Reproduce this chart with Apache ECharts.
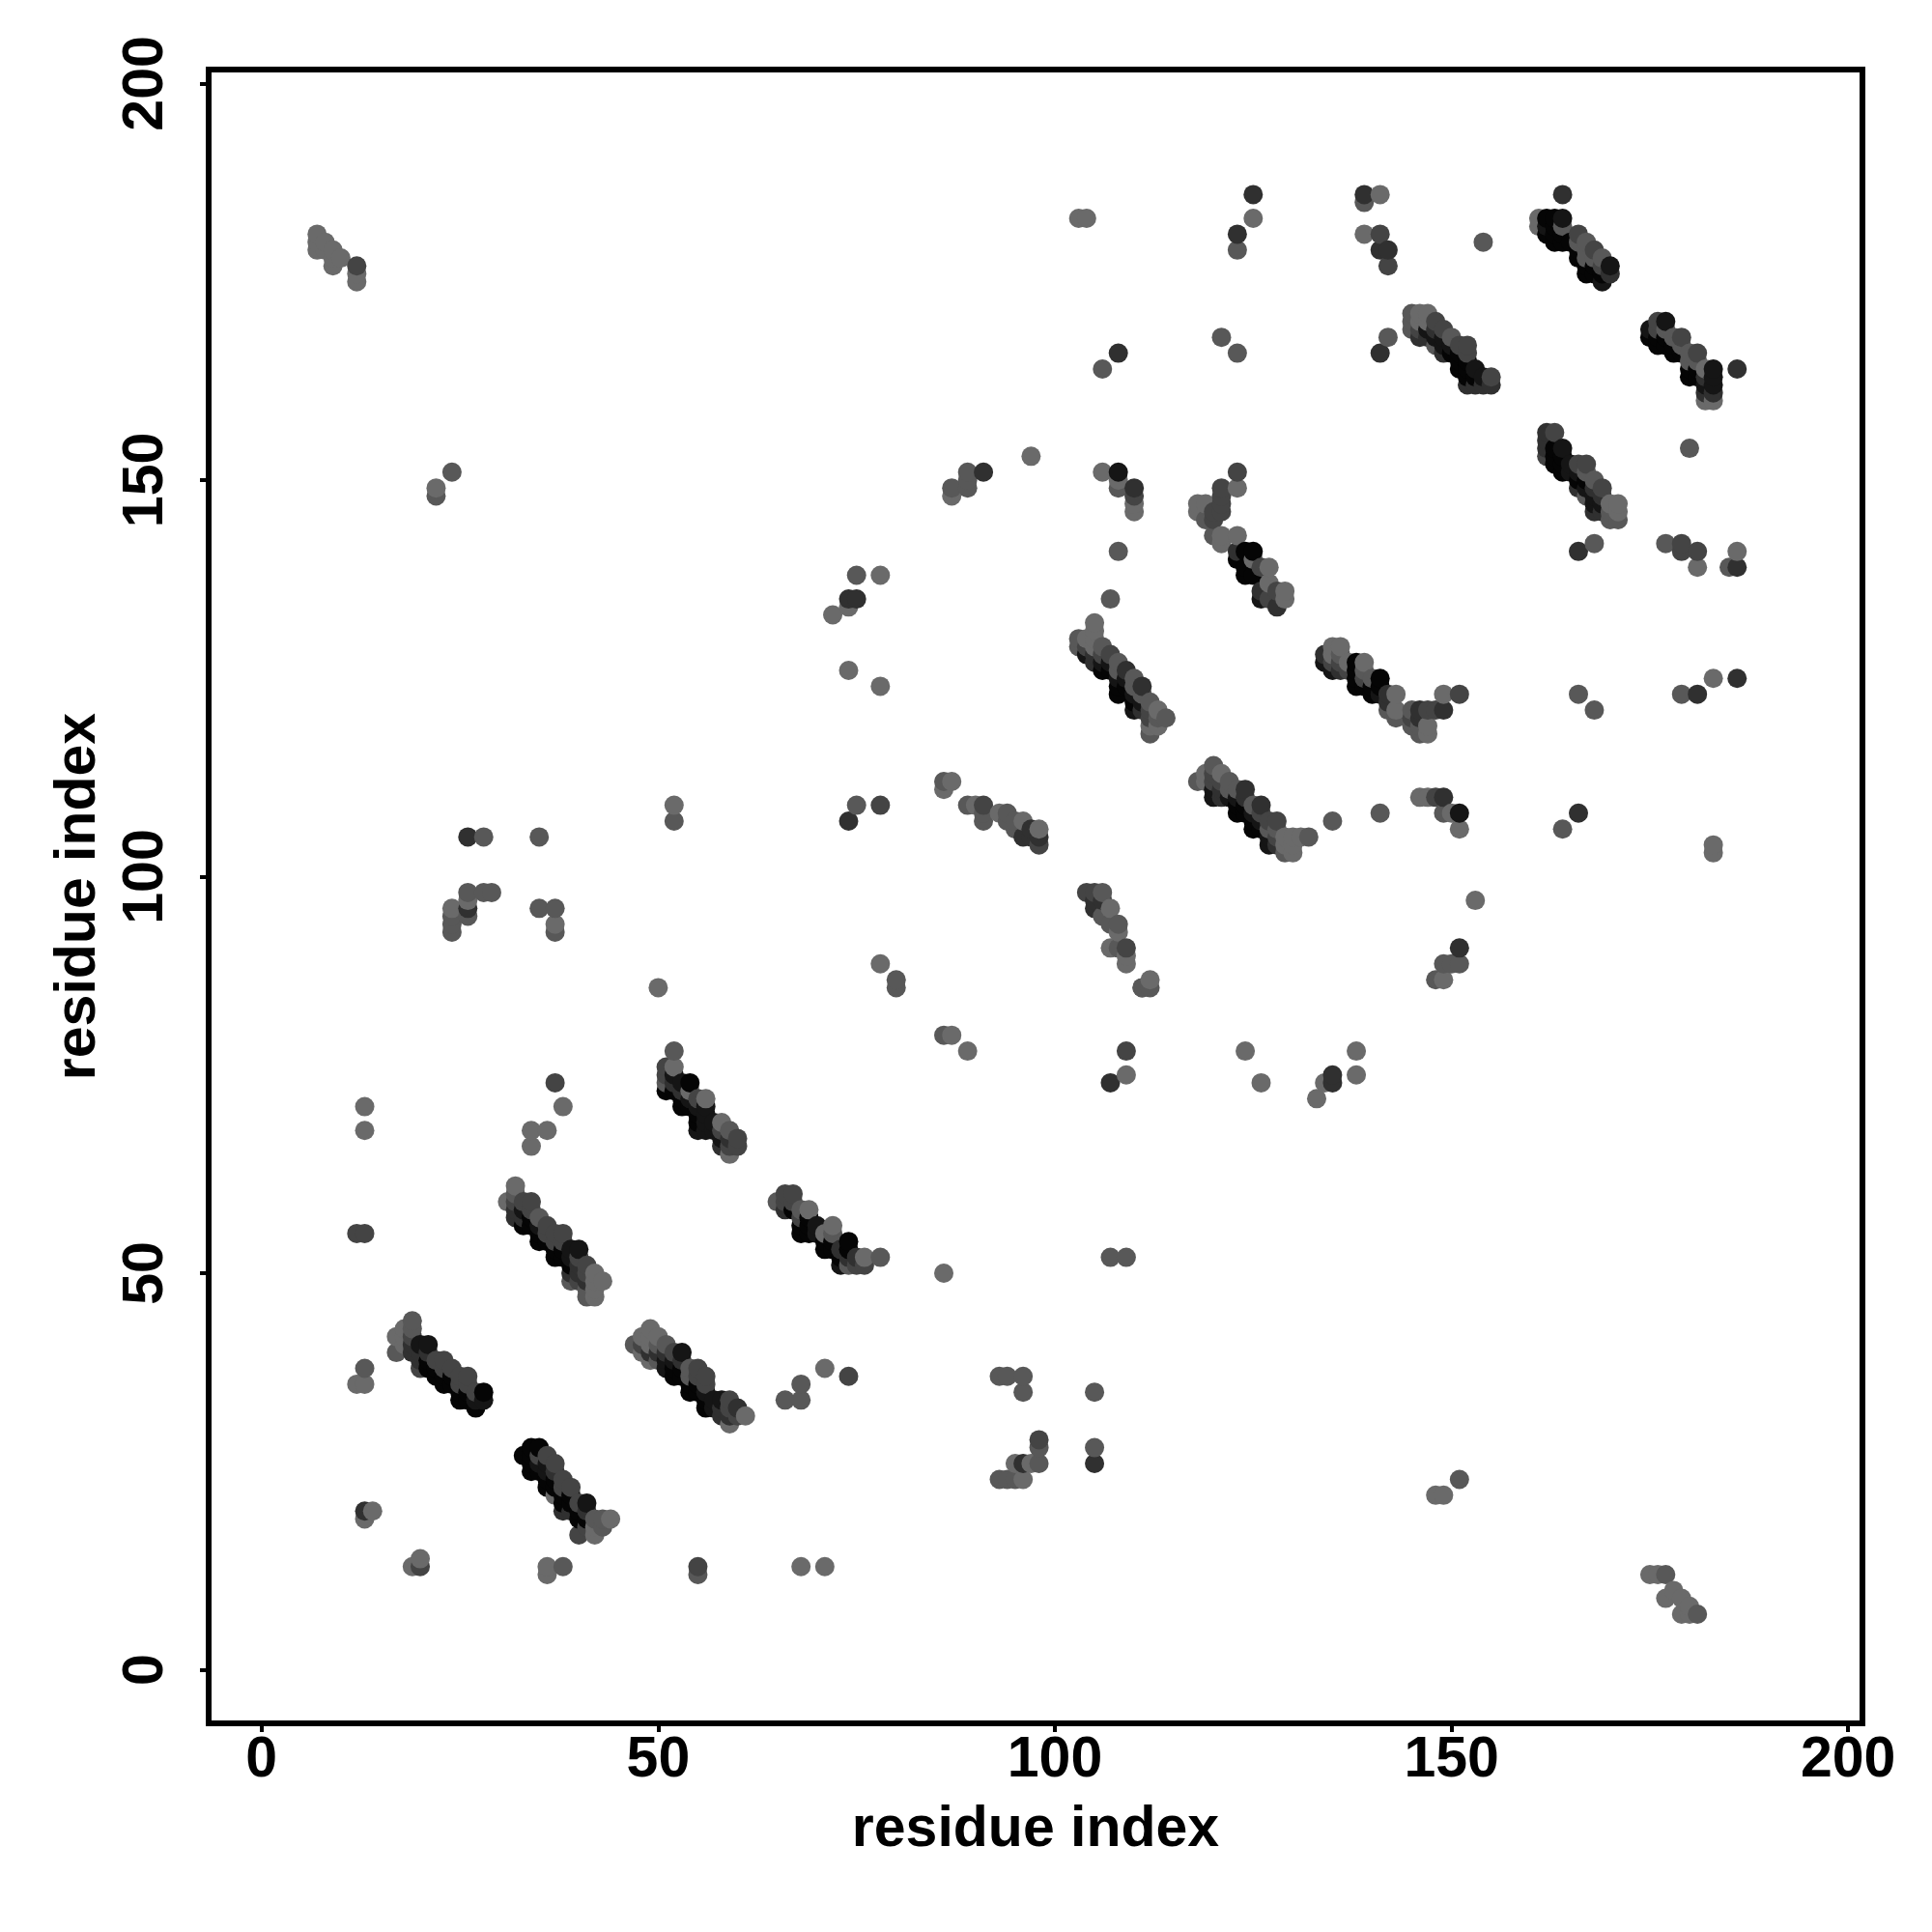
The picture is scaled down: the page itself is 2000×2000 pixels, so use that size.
<!DOCTYPE html>
<html><head><meta charset="utf-8">
<script src="https://cdn.jsdelivr.net/npm/echarts@6/dist/echarts.min.js"></script>
<style>html,body{margin:0;padding:0;background:#fff}#c{width:2000px;height:2000px}</style>
</head><body><div id="c"></div>
<script>
// each contact: [residue x, residue y, strength 1..6]
const tickValues=[0,50,100,150,200];
const axisTitle='residue index';
const bandA=[[17,40,2],[17,42,1],[18,41,1],[18,42,1],[18,43,1],[19,40,4],[19,41,4],[19,42,3],[19,43,2],[19,44,2],[20,38,3],[20,39,4],[20,40,4],[20,41,5],[21,38,6],[21,39,6],[21,40,4],[21,41,5],[22,37,6],[22,38,6],[22,39,3],[23,36,6],[23,37,6],[23,38,3],[23,39,3],[24,36,6],[24,37,6],[24,38,3],[25,34,6],[25,35,6],[25,36,3],[25,37,3],[26,34,6],[26,35,6],[26,36,3],[26,37,3],[27,33,6],[27,34,5],[27,35,3],[28,34,5],[28,35,6]];
const bandB=[[33,27,6],[34,25,6],[34,26,6],[34,27,6],[34,28,6],[35,25,6],[35,26,5],[35,27,3],[35,28,6],[36,23,6],[36,24,6],[36,25,5],[36,26,5],[36,27,3],[37,22,1],[37,23,6],[37,24,6],[37,25,4],[37,26,3],[38,20,4],[38,21,6],[38,22,6],[38,23,3],[38,24,3],[39,20,4],[39,21,6],[39,22,6],[39,23,3],[40,17,3],[40,19,6],[40,20,6],[40,21,3],[41,18,3],[41,19,6],[41,20,4],[41,21,5],[42,17,1],[42,18,1],[42,19,2],[43,18,2],[43,19,2],[44,19,1]];
const bandC=[[31,59,1],[32,57,4],[32,58,4],[32,59,3],[32,60,2],[32,61,1],[33,56,6],[33,57,4],[33,58,5],[33,59,3],[34,56,6],[34,57,6],[34,58,3],[34,59,3],[35,54,6],[35,55,6],[35,56,5],[35,57,2],[36,54,6],[36,55,3],[36,56,3],[37,52,6],[37,53,6],[37,54,3],[37,55,3],[38,52,6],[38,53,6],[38,54,3],[38,55,3],[39,49,2],[39,50,4],[39,51,6],[39,52,5],[39,53,5],[40,49,3],[40,50,4],[40,51,4],[40,52,3],[40,53,5],[41,47,2],[41,48,2],[41,49,4],[41,50,3],[41,51,3],[42,47,1],[42,48,1],[42,49,1],[42,50,1],[43,49,1]];
const bandD=[[47,41,2],[48,40,1],[48,41,3],[48,42,1],[49,39,1],[49,40,4],[49,41,1],[49,42,1],[49,43,1],[50,39,2],[50,40,4],[50,41,2],[50,42,1],[51,38,5],[51,39,5],[51,40,4],[51,41,2],[52,37,6],[52,38,6],[52,39,5],[52,40,3],[53,37,6],[53,38,6],[53,39,4],[53,40,5],[54,35,6],[54,36,6],[54,37,2],[54,38,2],[55,35,6],[55,36,6],[55,37,3],[55,38,3],[56,33,6],[56,34,6],[56,35,5],[56,36,3],[56,37,3],[57,33,5],[57,34,5],[58,32,4],[58,33,4],[58,34,5],[59,31,1],[59,32,4],[59,33,3],[59,34,3],[60,32,3],[60,33,4],[61,32,1]];
const bandE=[[65,59,2],[66,58,4],[66,59,3],[66,60,3],[67,58,6],[67,59,3],[67,60,3],[68,55,6],[68,56,6],[68,57,3],[68,58,2],[69,55,6],[69,56,6],[69,57,6],[69,58,1],[70,55,5],[70,56,5],[71,53,6],[71,54,6],[71,55,1],[72,53,6],[72,54,6],[72,55,2],[72,56,1],[73,51,5],[73,52,6],[73,53,4],[74,51,2],[74,52,4],[74,53,6],[74,54,6],[75,51,3],[75,52,4],[76,51,3],[76,52,1],[78,52,2]];
const bandF=[[51,73,6],[51,74,2],[51,75,3],[51,76,3],[52,73,6],[52,74,4],[52,75,5],[52,76,1],[52,78,2],[53,71,6],[53,72,6],[53,73,4],[53,74,5],[54,71,6],[54,72,5],[54,73,1],[54,74,6],[55,68,5],[55,69,6],[55,70,6],[55,71,5],[55,72,3],[56,68,5],[56,69,5],[56,70,5],[56,71,5],[56,72,1],[57,68,5],[57,69,5],[58,66,4],[58,67,5],[58,68,3],[58,69,1],[59,65,1],[59,66,3],[59,67,4],[59,68,2],[60,66,3],[60,67,3]];
const bandG=[[118,146,1],[118,147,1],[119,145,2],[119,147,1],[120,143,2],[120,145,3],[120,146,3],[121,142,1],[121,143,1],[121,146,3],[121,147,3],[121,148,3],[121,149,3],[123,140,6],[123,141,4],[123,143,1],[124,138,6],[124,139,6],[124,141,6],[125,138,6],[125,140,1],[125,141,6],[126,135,5],[126,136,4],[126,139,3],[127,135,3],[127,137,1],[127,139,1],[128,134,4],[128,136,3],[129,135,1],[129,136,1]];
const bandH=[[103,129,2],[103,130,2],[104,128,5],[104,129,3],[104,130,1],[105,127,4],[105,128,4],[105,129,1],[105,130,1],[105,131,1],[105,132,1],[106,126,6],[106,127,5],[106,128,3],[106,129,2],[107,126,6],[107,127,5],[107,128,3],[108,123,6],[108,124,6],[108,125,5],[108,126,2],[108,127,2],[109,124,6],[109,125,5],[109,126,4],[110,121,5],[110,122,6],[110,123,5],[110,124,2],[110,125,2],[111,121,4],[111,122,5],[111,123,2],[111,124,4],[112,118,2],[112,119,1],[112,120,3],[112,121,3],[112,122,2],[113,119,1],[113,120,2],[113,121,1],[114,120,2]];
const bandI=[[134,127,5],[134,128,4],[135,126,5],[135,127,3],[135,128,1],[135,129,1],[136,126,4],[136,127,3],[136,128,2],[136,129,1],[137,126,3],[137,127,1],[138,124,6],[138,125,6],[138,126,6],[138,127,6],[139,124,6],[139,125,3],[139,126,2],[139,127,1],[140,123,6],[140,124,6],[140,125,2],[141,123,5],[141,124,6],[141,125,6],[142,121,2],[142,122,4],[142,123,4],[143,120,2],[143,121,1],[143,123,1],[145,119,2],[145,120,3],[145,121,2],[146,118,2],[146,119,2],[146,120,4],[146,121,4],[147,118,1],[147,119,1],[147,121,3],[148,121,3],[149,121,4],[149,123,1],[151,123,3]];
const bandJ=[[118,112,2],[119,112,1],[119,113,1],[120,110,5],[120,111,5],[120,112,3],[120,113,3],[120,114,2],[121,110,4],[121,111,4],[121,112,3],[121,113,1],[122,110,5],[122,111,2],[122,112,2],[123,108,6],[123,109,6],[123,110,5],[123,111,2],[124,108,6],[124,109,6],[124,110,4],[124,111,4],[125,106,6],[125,107,6],[125,108,5],[125,109,2],[126,106,6],[126,107,5],[126,108,3],[126,109,4],[127,104,5],[127,105,5],[127,106,2],[127,107,3],[128,104,4],[128,105,3],[128,106,2],[128,107,3],[129,103,2],[129,104,1],[129,105,1],[130,103,1],[130,104,1],[130,105,1],[131,105,1],[132,105,2]];
const bandK=[[104,98,3],[105,96,4],[105,97,4],[105,98,3],[106,95,2],[106,97,4],[106,98,2],[107,91,1],[107,94,2],[107,96,1],[108,91,2],[108,93,1],[108,94,2],[109,89,1],[109,90,1],[109,91,3],[111,86,2],[112,86,2],[112,87,1]];
const bandL=[[161,182,1],[161,183,1],[162,181,6],[162,182,5],[162,183,6],[163,180,6],[163,181,6],[163,182,6],[163,183,6],[164,180,6],[164,181,6],[164,182,2],[164,183,5],[165,180,6],[166,178,6],[166,179,6],[166,180,2],[166,181,3],[167,176,6],[167,177,6],[167,178,2],[167,179,2],[167,180,2],[168,176,6],[168,177,6],[168,178,2],[168,179,3],[169,175,5],[169,176,6],[169,177,3],[169,178,2],[170,176,4],[170,177,5]];
const bandM=[[175,168,6],[175,169,5],[176,167,6],[176,168,6],[176,169,3],[176,170,3],[177,167,6],[177,168,6],[177,169,2],[177,170,5],[178,166,6],[178,167,6],[178,168,2],[179,166,6],[179,167,2],[179,168,3],[180,163,6],[180,164,6],[180,165,2],[180,166,2],[181,163,6],[181,164,6],[181,165,2],[181,166,3],[182,160,1],[182,161,4],[182,162,5],[182,163,4],[182,164,1],[183,160,1],[183,161,4],[183,162,5],[183,163,5],[183,164,5],[186,164,4]];
const bandN=[[145,169,2],[145,170,2],[145,171,2],[146,168,4],[146,169,3],[146,170,1],[146,171,1],[147,168,4],[147,169,5],[147,170,1],[147,171,1],[148,167,2],[148,168,5],[148,169,4],[148,170,3],[149,166,4],[149,167,5],[149,168,5],[149,169,3],[150,166,6],[150,167,5],[150,168,2],[151,164,6],[151,165,6],[151,166,6],[151,167,3],[152,162,4],[152,163,6],[152,164,6],[152,165,6],[152,166,3],[152,167,3],[153,162,4],[153,163,6],[153,164,5],[154,162,4],[154,163,5],[155,162,4],[155,163,3]];
const bandO=[[162,153,3],[162,154,4],[162,155,4],[162,156,4],[163,152,6],[163,153,6],[163,154,6],[163,156,3],[164,151,6],[164,152,6],[164,153,6],[164,154,5],[165,151,5],[165,152,5],[166,149,4],[166,150,6],[166,151,5],[166,152,3],[167,148,2],[167,149,5],[167,150,6],[167,151,2],[167,152,3],[168,146,4],[168,147,5],[168,148,5],[168,149,4],[168,150,2],[169,146,4],[169,147,5],[169,148,4],[169,149,3],[170,145,2],[170,146,2],[170,147,1],[171,145,2],[171,146,1],[171,147,1]];
const arcTop=[[86,111,1],[86,112,2],[87,112,1],[89,109,2],[90,109,1],[91,107,2],[91,108,2],[91,109,3],[93,108,1],[94,107,2],[94,108,2],[95,106,2],[95,107,2],[96,105,4],[96,107,1],[97,105,4],[97,106,4],[98,104,3],[98,105,4],[98,106,1]];
const cornerTopLeft=[[7,179,1],[7,180,1],[7,181,1],[8,179,1],[8,180,1],[9,177,1],[9,178,1],[9,179,1],[10,178,1],[12,175,1],[12,176,1],[12,177,3],[22,148,2],[22,149,1],[24,151,2]];
const cornerBottomRight=[[175,12,1],[176,12,1],[177,12,2],[177,9,1],[178,10,1],[179,9,1],[179,7,1],[180,7,1],[180,8,1],[181,7,2],[148,22,1],[149,22,1],[151,24,2]];
const scatterLow=[[12,36,1],[13,36,1],[13,38,2],[12,55,3],[13,55,3],[13,19,1],[13,20,4],[14,20,1],[19,13,1],[20,13,3],[20,14,1],[36,12,1],[36,13,1],[38,13,2],[55,12,2],[55,13,3],[68,13,1],[71,13,1],[13,68,1],[13,71,1],[34,66,1],[34,68,1],[36,68,1],[37,74,3],[38,71,1],[66,34,2],[68,34,2],[68,36,2],[71,38,1],[74,37,3],[86,50,1],[107,52,2],[109,52,2],[93,37,2],[94,37,2],[96,37,2],[96,35,2],[105,35,2],[98,29,3],[98,28,2],[95,26,1],[96,26,4],[97,26,1],[98,26,2],[93,24,2],[94,24,2],[95,24,2],[96,24,1],[105,28,2],[105,26,4]];
const scatterMid=[[24,93,2],[24,94,2],[24,95,2],[24,96,1],[26,95,2],[26,96,4],[26,97,1],[26,98,2],[28,98,2],[29,98,2],[35,96,2],[37,93,2],[37,94,1],[37,96,2],[26,105,4],[28,105,2],[35,105,2],[50,86,1],[52,107,2],[52,109,1],[74,107,4],[75,109,2],[78,109,3],[78,89,1],[80,86,2],[80,87,2],[86,80,2],[87,80,1],[89,78,1],[107,74,4],[109,75,1],[109,78,3],[111,86,2],[124,78,1],[126,74,1],[133,72,1],[134,74,1],[135,74,4],[135,75,4],[138,75,1],[138,78,1],[135,107,2],[141,108,2],[146,110,1],[147,110,1],[148,110,3],[149,110,4],[149,108,2],[150,108,1],[151,108,5],[151,106,1],[153,97,1],[151,91,4],[149,89,2],[150,89,2],[151,89,2],[148,87,2],[149,87,1]];
const scatterHigh=[[72,133,1],[74,134,1],[74,135,4],[75,135,4],[75,138,2],[78,138,1],[74,126,1],[78,124,1],[87,148,1],[87,149,2],[89,149,2],[89,150,2],[89,151,2],[91,151,4],[97,153,1],[103,183,1],[104,183,1],[106,151,1],[108,149,2],[108,150,1],[108,151,5],[110,146,1],[110,147,1],[110,148,3],[110,149,4],[108,141,2],[107,135,2],[106,164,2],[108,166,4],[121,168,2],[123,166,2],[123,151,3],[123,149,1],[123,179,2],[123,181,4],[125,183,1],[125,186,4],[139,181,1],[139,185,2],[139,186,4],[141,186,1],[141,181,3],[141,179,4],[142,179,4],[142,177,3],[141,166,4],[142,168,2],[154,180,2],[164,186,4],[166,141,4],[168,142,2],[177,142,2],[179,142,3],[179,141,3],[181,141,3],[181,139,1],[185,139,2],[186,139,4],[186,141,1],[180,154,2],[166,123,2],[168,121,2],[179,123,2],[181,123,4],[183,125,1],[186,125,4],[166,108,4],[164,106,2],[183,104,1],[183,103,1]];

const contacts=[bandA,bandB,bandC,bandD,bandE,bandF,bandG,bandH,bandI,bandJ,bandK,bandL,bandM,bandN,bandO,arcTop,cornerTopLeft,cornerBottomRight,scatterLow,scatterMid,scatterHigh].flat().sort((a,b)=>a[0]-b[0]||a[1]-b[1]);
const strengthGrey=['','#6a6a6a','#585858','#444444','#303030','#151515','#050505'];

const font='"Liberation Sans",Arial,sans-serif';
const chart=echarts.init(document.getElementById('c'),null,{renderer:'canvas',width:2000,height:2000});
function axis(min,max,extra){
  return Object.assign({type:'value',min,max,name:axisTitle,nameLocation:'middle',
    nameTextStyle:{fontFamily:font,fontWeight:'bold',fontSize:59,color:'#000'},
    splitLine:{show:false},axisLine:{show:false,onZero:false},
    axisTick:{show:true,length:9,customValues:tickValues,lineStyle:{color:'#000',width:4}}},extra);
}
chart.setOption({
  animation:false,backgroundColor:'#fff',
  grid:{left:216,top:72,width:1712,height:1712,show:true,borderColor:'#000',borderWidth:6,backgroundColor:'#fff',containLabel:false},
  xAxis:axis(-6.67,201.8,{nameGap:81,axisLabel:{customValues:tickValues,margin:9,fontFamily:font,fontWeight:'bold',fontSize:59,color:'#000',formatter:v=>String(v)}}),
  yAxis:axis(-6.76,201.76,{nameGap:105,nameRotate:90,axisLabel:{customValues:tickValues,rotate:90,align:'center',verticalAlign:'bottom',margin:35,fontFamily:font,fontWeight:'bold',fontSize:59,color:'#000',formatter:v=>String(v)}}),
  series:[{type:'scatter',symbol:'circle',symbolSize:20,data:contacts,clip:false,
    itemStyle:{opacity:1,color:p=>strengthGrey[p.value[2]]},
    encode:{x:0,y:1},silent:true,progressive:0}]
});
</script></body></html>
